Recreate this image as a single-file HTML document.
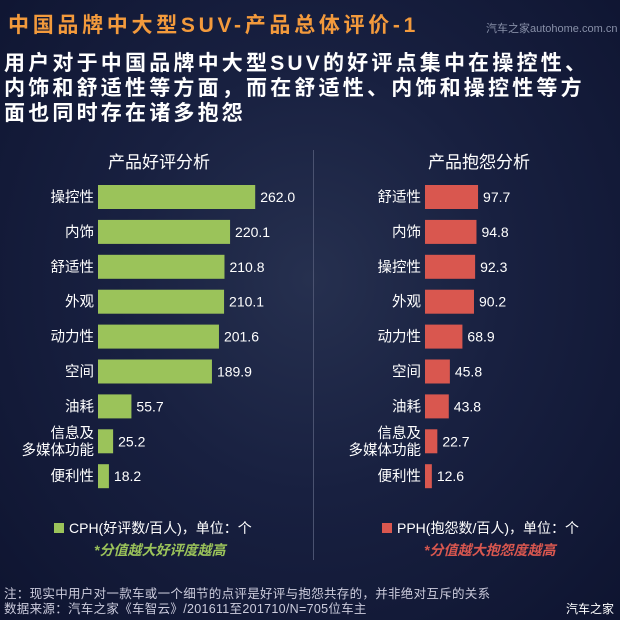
<!DOCTYPE html>
<html><head><meta charset="utf-8"><style>
body{margin:0;width:620px;height:620px;overflow:hidden;background:radial-gradient(ellipse at 50% 45%,#26304f 0%,#182040 45%,#0e1430 100%);font-family:"Liberation Sans","Noto Sans CJK SC",sans-serif;color:#fff;position:relative}
.a{position:absolute;white-space:nowrap}
</style></head><body>
<div class="a" style="left:8px;top:9px;font-size:21px;font-weight:bold;color:#f39a3c;letter-spacing:3.7px">中国品牌中大型SUV-产品总体评价-1</div>
<div class="a" style="left:486px;top:20px;font-size:11px;color:#8890a8">汽车之家autohome.com.cn</div>
<div class="a" style="left:4px;top:51px;font-size:21px;font-weight:bold;line-height:25px;letter-spacing:3.2px">用户对于中国品牌中大型SUV的好评点集中在操控性、<br>内饰和舒适性等方面，而在舒适性、内饰和操控性等方<br>面也同时存在诸多抱怨</div>
<div class="a" style="left:313px;top:150px;width:1px;height:410px;background:#4a5270"></div>
<div class="a" style="left:108px;top:148px;font-size:17px">产品好评分析</div>
<div class="a" style="left:428px;top:148px;font-size:17px">产品抱怨分析</div>
<svg class="a" style="left:0;top:0" width="620" height="620" id="svg"></svg>
<div class="a" style="left:54px;top:518px;font-size:14px"><span style="display:inline-block;width:10px;height:10px;background:#9bc35a;margin-right:5px"></span>CPH(好评数/百人)，单位：个</div>
<div class="a" style="left:382px;top:518px;font-size:14px"><span style="display:inline-block;width:10px;height:10px;background:#d9574f;margin-right:5px"></span>PPH(抱怨数/百人)，单位：个</div>
<div class="a" style="left:94px;top:540px;font-size:14px;font-weight:bold;font-style:italic;color:#9bc35a">*分值越大好评度越高</div>
<div class="a" style="left:424px;top:540px;font-size:14px;font-weight:bold;font-style:italic;color:#d9574f">*分值越大抱怨度越高</div>
<div class="a" style="left:4px;top:587px;font-size:12.5px;line-height:15px;color:#ccd;letter-spacing:0.3px">注：现实中用户对一款车或一个细节的点评是好评与抱怨共存的，并非绝对互斥的关系<br>数据来源：汽车之家《车智云》/201611至201710/N=705位车主</div>
<div class="a" style="left:566px;top:600px;font-size:12px">汽车之家</div>
<script>
const goodCats=["操控性","内饰","舒适性","外观","动力性","空间","油耗","信息及\n多媒体功能","便利性"];
const goodVals=[262.0,220.1,210.8,210.1,201.6,189.9,55.7,25.2,18.2];
const badCats=["舒适性","内饰","操控性","外观","动力性","空间","油耗","信息及\n多媒体功能","便利性"];
const badVals=[97.7,94.8,92.3,90.2,68.9,45.8,43.8,22.7,12.6];
const svg=document.getElementById('svg');
const NS='http://www.w3.org/2000/svg';
function rowY(i){return 197+i*34.9;}
function draw(cats,vals,x0,scale,color,side){
  cats.forEach((c,i)=>{
    const cy=rowY(i);
    const r=document.createElementNS(NS,'rect');
    r.setAttribute('x',x0);r.setAttribute('y',cy-12);
    r.setAttribute('width',vals[i]*scale);r.setAttribute('height',24);
    r.setAttribute('fill',color);
    
    
    svg.appendChild(r);
    const v=document.createElementNS(NS,'text');
    v.setAttribute('x',x0+vals[i]*scale+5);v.setAttribute('y',cy+5);
    v.setAttribute('fill','#fff');v.setAttribute('font-size','14');
    v.textContent=vals[i].toFixed(1);
    
    
    svg.appendChild(v);
    const lines=c.split('\n');
    lines.forEach((ln,k)=>{
      const t=document.createElementNS(NS,'text');
      t.setAttribute('x',x0-4);
      t.setAttribute('y',cy+5+(k-(lines.length-1)/2)*17);
      t.setAttribute('text-anchor','end');t.setAttribute('fill','#fff');t.setAttribute('font-size','14.5');
      t.textContent=ln;
      
      
      svg.appendChild(t);
    });
  });
}
draw(goodCats,goodVals,98,0.6,'#9bc35a','good');
draw(badCats,badVals,425,0.543,'#d9574f','bad');
</script>
</body></html>
